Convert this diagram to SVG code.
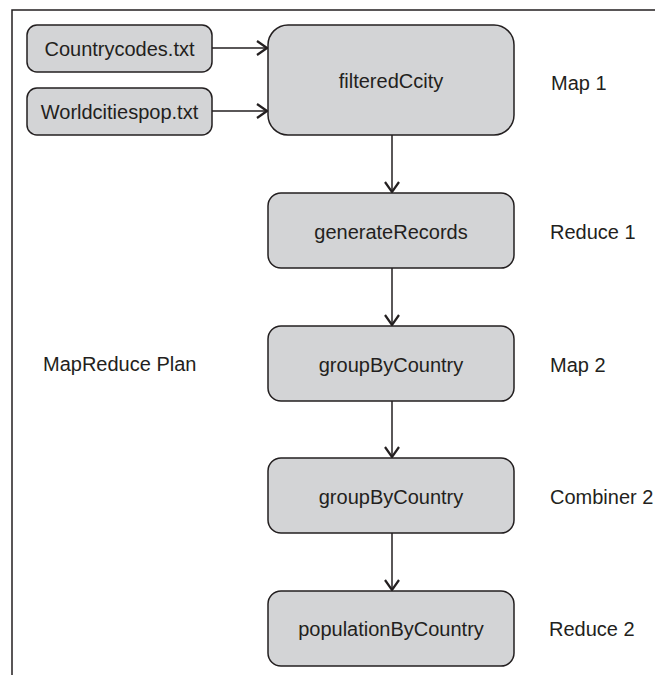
<svg xmlns="http://www.w3.org/2000/svg" width="655" height="675" viewBox="0 0 655 675">
<style>
.box{fill:#d3d4d6;stroke:#231f20;stroke-width:1.5}
.t{font-family:"Liberation Sans",Arial,sans-serif;font-size:20px;fill:#231f20}
.c{text-anchor:middle}
.ln{stroke:#231f20;stroke-width:1.5;fill:none}
</style>
<defs>
<marker id="ah" markerUnits="userSpaceOnUse" viewBox="0 0 12 16" refX="11" refY="8" markerWidth="12" markerHeight="16" orient="auto">
<path d="M1,1 L11,8 L1,15" fill="none" stroke="#231f20" stroke-width="2.2"/>
</marker>
</defs>
<rect width="655" height="675" fill="#fff"/>
<g id="frame"><path d="M12,675 V10 H655" class="ln"/></g>
<g id="connectors">
<line x1="212" y1="48" x2="267" y2="48" class="ln" marker-end="url(#ah)"/>
<line x1="212" y1="111" x2="267" y2="111" class="ln" marker-end="url(#ah)"/>
<line x1="392" y1="135" x2="392" y2="192" class="ln" marker-end="url(#ah)"/>
<line x1="392" y1="268" x2="392" y2="325" class="ln" marker-end="url(#ah)"/>
<line x1="392" y1="401" x2="392" y2="457" class="ln" marker-end="url(#ah)"/>
<line x1="392" y1="533" x2="392" y2="590" class="ln" marker-end="url(#ah)"/>
</g>
<g id="countrycodes"><rect class="box" x="27" y="25" width="185" height="47" rx="10"/><text class="t c" x="119.5" y="55.5">Countrycodes.txt</text></g>
<g id="worldcitiespop"><rect class="box" x="27" y="88" width="185" height="47" rx="10"/><text class="t c" x="119.5" y="118.5">Worldcitiespop.txt</text></g>
<g id="filteredCcity"><rect class="box" x="268" y="25" width="246" height="110" rx="20"/><text class="t c" x="391" y="87.5">filteredCcity</text></g>
<g id="generateRecords"><rect class="box" x="268" y="193" width="246" height="75" rx="13"/><text class="t c" x="391" y="238.5">generateRecords</text></g>
<g id="groupByCountry1"><rect class="box" x="268" y="326" width="246" height="75" rx="13"/><text class="t c" x="391" y="371.5">groupByCountry</text></g>
<g id="groupByCountry2"><rect class="box" x="268" y="458" width="246" height="75" rx="13"/><text class="t c" x="391" y="503.5">groupByCountry</text></g>
<g id="populationByCountry"><rect class="box" x="268" y="591" width="246" height="75" rx="13"/><text class="t c" x="391" y="635.5">populationByCountry</text></g>
<g id="labels">
<text class="t" x="551" y="89.5">Map 1</text>
<text class="t" x="550" y="238.5">Reduce 1</text>
<text class="t" x="550" y="371.5">Map 2</text>
<text class="t" x="550" y="503.5">Combiner 2</text>
<text class="t" x="549" y="635.5">Reduce 2</text>
<text class="t" x="43" y="370.5">MapReduce Plan</text>
</g>
</svg>
